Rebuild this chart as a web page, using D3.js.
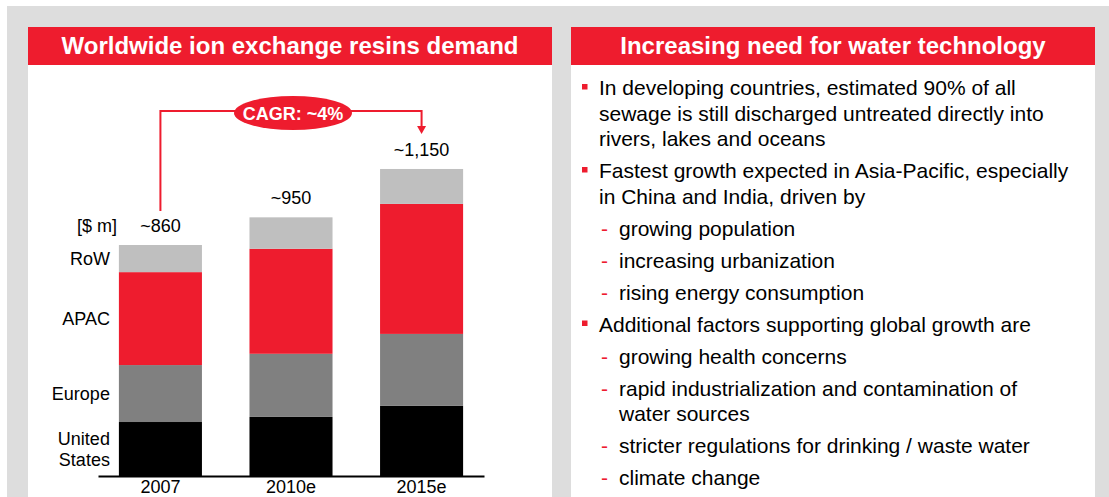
<!DOCTYPE html>
<html>
<head>
<meta charset="utf-8">
<script src="https://cdn.jsdelivr.net/npm/d3@7"></script>
<style>
  body { margin: 0; background: #fff; }
  svg { display: block; font-family: "Liberation Sans", Arial, sans-serif; }
</style>
</head>
<body>
<div id="chart"></div>
<script>
// data
var years = ["2007", "2010e", "2015e"];
var regions = ["United States", "Europe", "APAC", "RoW"];
var us     = [201, 220, 261];
var europe = [212, 235, 268];
var apac   = [346, 391, 484];
var row    = [101, 117, 130];
var totalLabels = ["~860", "~950", "~1,150"];
var unitLabel = "[$ m]";
var cagrLabel = "CAGR: ~4%";

var leftTitle = "Worldwide ion exchange resins demand";
var rightTitle = "Increasing need for water technology";
var bullets = [
  {sub: false, lines: ["In developing countries, estimated 90% of all", "sewage is still discharged untreated directly into", "rivers, lakes and oceans"]},
  {sub: false, lines: ["Fastest growth expected in Asia-Pacific, especially", "in China and India, driven by"]},
  {sub: true,  lines: ["growing population"]},
  {sub: true,  lines: ["increasing urbanization"]},
  {sub: true,  lines: ["rising energy consumption"]},
  {sub: false, lines: ["Additional factors supporting global growth are"]},
  {sub: true,  lines: ["growing health concerns"]},
  {sub: true,  lines: ["rapid industrialization and contamination of", "water sources"]},
  {sub: true,  lines: ["stricter regulations for drinking / waste water"]},
  {sub: true,  lines: ["climate change"]}
];

var red = "#ee1c2e";
var colors = {"United States": "#000000", "Europe": "#808080", "APAC": red, "RoW": "#bfbfbf"};

var width = 1109, height = 497;
var svg = d3.select("#chart").append("svg")
    .attr("width", width)
    .attr("height", height);

// frame
svg.append("rect").attr("x", 7).attr("y", 6).attr("width", width - 7).attr("height", height - 6).attr("fill", "#dddddd");
var panels = [{x: 28, w: 524, title: leftTitle}, {x: 571, w: 524, title: rightTitle}];
panels.forEach(function(p) {
  svg.append("rect").attr("x", p.x).attr("y", 27).attr("width", p.w).attr("height", height - 27).attr("fill", "#fff");
  svg.append("rect").attr("x", p.x).attr("y", 27).attr("width", p.w).attr("height", 38).attr("fill", red);
  svg.append("text")
      .attr("x", p.x + p.w / 2).attr("y", 54)
      .attr("text-anchor", "middle")
      .attr("fill", "#fff")
      .attr("font-size", 24)
      .attr("font-weight", "bold")
      .text(p.title);
});

// stacked bars
var table = years.map(function(y, i) {
  return {year: y, "United States": us[i], "Europe": europe[i], "APAC": apac[i], "RoW": row[i]};
});
var series = d3.stack().keys(regions)(table);

var x = d3.scaleBand()
    .domain(years)
    .range([98, 484])
    .paddingInner(0.364)
    .paddingOuter(0.16);

var y = d3.scaleLinear()
    .domain([0, 1000])
    .range([476, 207.4]);

var g = svg.append("g");

g.selectAll("g.series")
  .data(series)
  .enter().append("g")
    .attr("fill", function(d) { return colors[d.key]; })
  .selectAll("rect")
  .data(function(d) { return d; })
  .enter().append("rect")
    .attr("x", function(d) { return x(d.data.year); })
    .attr("y", function(d) { return y(d[1]); })
    .attr("width", x.bandwidth())
    .attr("height", function(d) { return y(d[0]) - y(d[1]); });

// baseline + category labels
var axis = g.append("g")
    .attr("transform", "translate(0," + y(0) + ")")
    .call(d3.axisBottom(x).tickSize(0).tickPadding(5));
axis.select(".domain").attr("stroke", "#000").attr("stroke-width", 2);
axis.selectAll("text")
    .attr("font-size", 18)
    .attr("fill", "#000")
    .attr("font-family", "Liberation Sans, Arial, sans-serif")
    .attr("dy", "0.64em");

// totals above bars
var totals = table.map(function(d) { return regions.reduce(function(s, k) { return s + d[k]; }, 0); });
g.selectAll("text.total")
  .data(years)
  .enter().append("text")
    .attr("class", "total")
    .attr("x", function(d) { return x(d) + x.bandwidth() / 2; })
    .attr("y", function(d, i) { return y(totals[i]) - 13; })
    .attr("text-anchor", "middle")
    .attr("font-size", 18)
    .text(function(d, i) { return totalLabels[i]; });

// region labels beside first bar
var first = years[0], labelX = x(first) - 9;
series.forEach(function(s) {
  var d = s[0], mid = (y(d[0]) + y(d[1])) / 2;
  var words = s.key === "United States" ? ["United", "States"] : [s.key];
  var t = g.append("text")
      .attr("x", labelX)
      .attr("text-anchor", "end")
      .attr("font-size", 18);
  words.forEach(function(w, i) {
    t.append("tspan")
        .attr("x", labelX)
        .attr("y", mid + 6 + (i - (words.length - 1) / 2) * 21)
        .text(w);
  });
});

g.append("text")
    .attr("x", 117)
    .attr("y", y(totals[0]) - 13)
    .attr("text-anchor", "end")
    .attr("font-size", 18)
    .text(unitLabel);

// CAGR connector
var x1 = x(years[0]) + x.bandwidth() / 2,
    x3 = x(years[2]) + x.bandwidth() / 2,
    lineY = 111;
g.append("path")
    .attr("d", "M" + x1 + "," + (y(totals[0]) - 34) + "V" + lineY + "H" + x3 + "V" + 127)
    .attr("fill", "none")
    .attr("stroke", red)
    .attr("stroke-width", 2);
g.append("path")
    .attr("d", "M" + (x3 - 4.5) + ",126L" + (x3 + 4.5) + ",126L" + x3 + ",134Z")
    .attr("fill", red);
var cx = (x1 + x3) / 2 + 2;
g.append("ellipse")
    .attr("cx", cx).attr("cy", 113)
    .attr("rx", 59).attr("ry", 17)
    .attr("fill", red);
g.append("text")
    .attr("x", cx).attr("y", 119.5)
    .attr("text-anchor", "middle")
    .attr("fill", "#fff")
    .attr("font-size", 18)
    .attr("font-weight", "bold")
    .text(cagrLabel);

// bullet text on the right
var tg = svg.append("g").attr("font-size", 21).attr("fill", "#000");
var base = 95;
bullets.forEach(function(b, i) {
  if (i > 0) base += 32;
  if (b.sub) {
    tg.append("text").attr("x", 601).attr("y", base).attr("fill", red).text("-");
  } else {
    tg.append("rect").attr("x", 582).attr("y", base - 11).attr("width", 5.5).attr("height", 5.5).attr("fill", red);
  }
  b.lines.forEach(function(line, j) {
    if (j > 0) base += 25.5;
    tg.append("text")
        .attr("x", b.sub ? 619 : 599)
        .attr("y", base)
        .text(line);
  });
});
</script>
</body>
</html>
